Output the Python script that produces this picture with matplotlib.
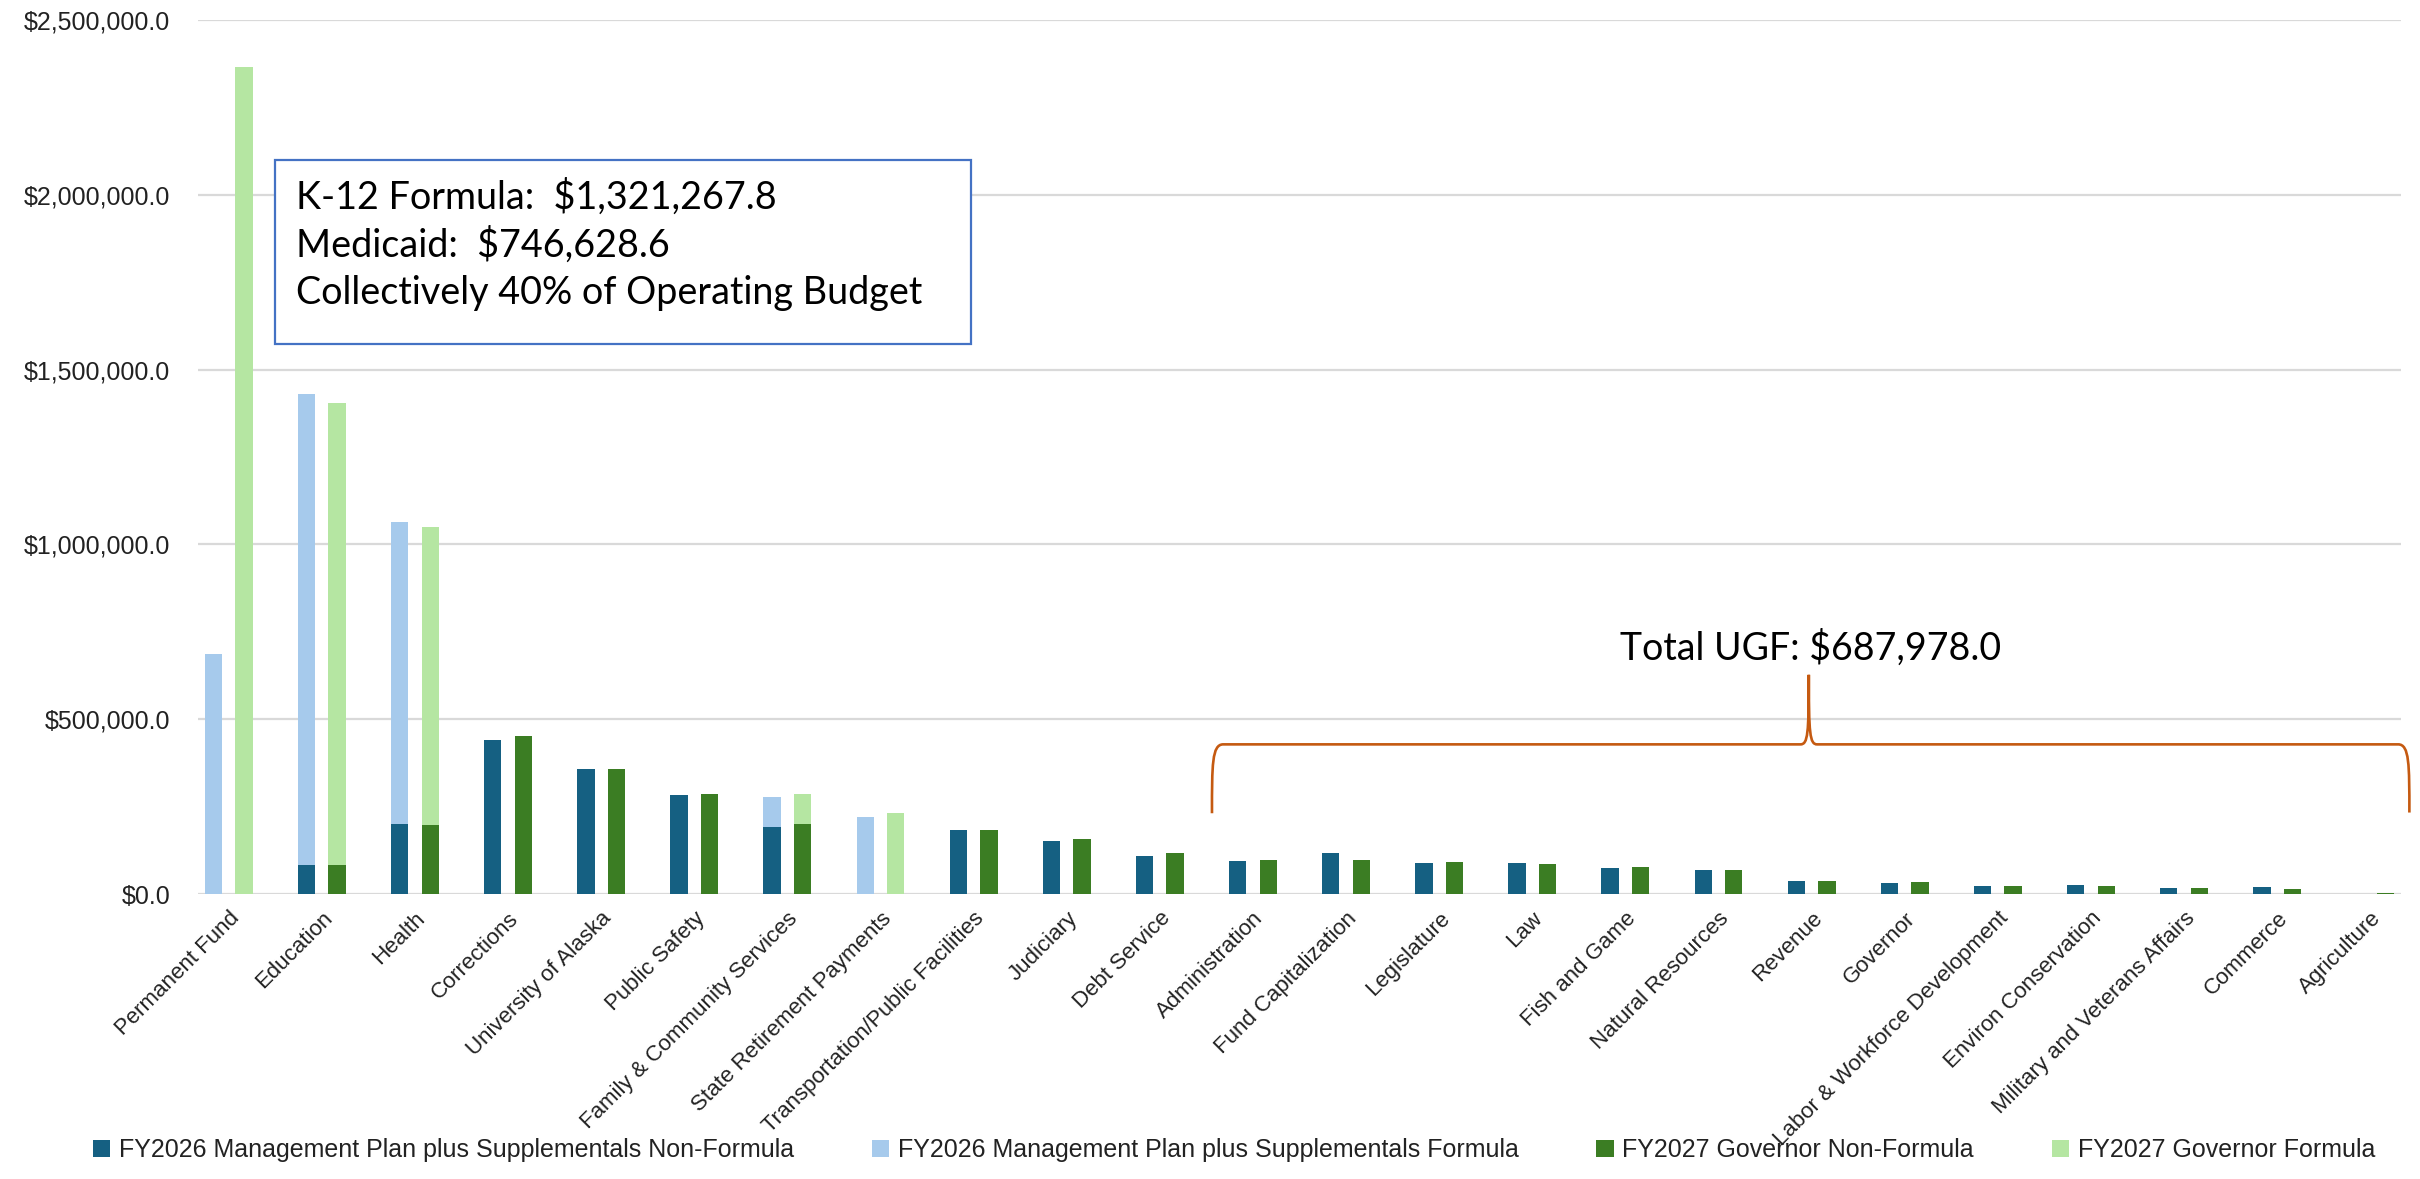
import matplotlib
matplotlib.use('Agg')
import matplotlib.pyplot as plt
from matplotlib.path import Path
from matplotlib.patches import PathPatch, Rectangle, Patch
from matplotlib.ticker import FuncFormatter, MultipleLocator
import numpy as np

plt.rcParams['font.family'] = ['Liberation Sans', 'DejaVu Sans']

categories = ['Permanent Fund', 'Education', 'Health', 'Corrections', 'University of Alaska',
              'Public Safety', 'Family & Community Services', 'State Retirement Payments',
              'Transportation/Public Facilities', 'Judiciary', 'Debt Service', 'Administration',
              'Fund Capitalization', 'Legislature', 'Law', 'Fish and Game', 'Natural Resources',
              'Revenue', 'Governor', 'Labor & Workforce Development', 'Environ Conservation',
              'Military and Veterans Affairs', 'Commerce', 'Agriculture']

fy26_nonformula = [0, 84000, 200000, 440000, 358000, 282000, 191000, 0, 182000, 153000, 109000,
                   95000, 118000, 88000, 88000, 74000, 69000, 36000, 31000, 22000, 26000, 16000,
                   20000, 0]
fy26_formula = [686000, 1347000, 864000, 0, 0, 0, 87000, 219000, 0, 0, 0, 0, 0, 0, 0, 0, 0, 0,
                0, 0, 0, 0, 0, 0]
fy27_nonformula = [0, 84000, 197000, 453000, 358000, 287000, 199000, 0, 184000, 158000, 118000,
                   98000, 98000, 92000, 86000, 78000, 69000, 36000, 33000, 23000, 23000, 17000,
                   15000, 3000]
fy27_formula = [2366000, 1321268, 854000, 0, 0, 0, 86000, 233000, 0, 0, 0, 0, 0, 0, 0, 0, 0, 0,
                0, 0, 0, 0, 0, 0]

series_labels = ['FY2026 Management Plan plus Supplementals Non-Formula',
                 'FY2026 Management Plan plus Supplementals Formula',
                 'FY2027 Governor Non-Formula',
                 'FY2027 Governor Formula']
colors = ['#156082', '#A6CAEC', '#3B7D23', '#B5E6A2']

box_lines = ['K-12 Formula:  $1,321,267.8', 'Medicaid:  $746,628.6',
             'Collectively 40% of Operating Budget']
ugf_label = 'Total UGF: $687,978.0'

W, H = 2420, 1179
fig = plt.figure(figsize=(W / 100, H / 100), dpi=100)
ax = fig.add_axes([198 / W, 285 / H, (2401 - 198) / W, (894 - 20) / H])

x = np.arange(len(categories))
bw, off = 0.186, 0.164
ax.bar(x - off, fy26_nonformula, bw, color=colors[0], label=series_labels[0], zorder=3)
ax.bar(x - off, fy26_formula, bw, bottom=fy26_nonformula, color=colors[1], label=series_labels[1], zorder=3)
ax.bar(x + off, fy27_nonformula, bw, color=colors[2], label=series_labels[2], zorder=3)
ax.bar(x + off, fy27_formula, bw, bottom=fy27_nonformula, color=colors[3], label=series_labels[3], zorder=3)

ax.set_xlim(-0.33, len(categories) - 1 + 0.33)
ax.set_ylim(0, 2500000)
ax.yaxis.set_major_locator(MultipleLocator(500000))
ax.yaxis.set_major_formatter(FuncFormatter(lambda v, p: '${:,.1f}'.format(v)))
ax.grid(axis='y', color='#D9D9D9', linewidth=1.6, zorder=0)
ax.set_axisbelow(True)
for s in ax.spines.values():
    s.set_visible(False)
ax.tick_params(axis='both', length=0)
ax.tick_params(axis='y', labelsize=18, pad=20, labelcolor='#222222')
ax.set_xticks(x)
ax.set_xticklabels(categories, rotation=45, ha='right', rotation_mode='anchor',
                   fontsize=16, color='#222222')
ax.tick_params(axis='x', pad=10)

# Curly brace over the smaller departments
xl, xr, xt = 10.56, 23.42, 16.97
yline, ybl, ybr, ytip = 428000, 231000, 233000, 627000
cx = 0.12
tx = 0.09
verts = [
    (xl, ybl), (xl, yline - 0.3 * (yline - ybl)), (xl, yline), (xl + cx, yline),
    (xt - tx, yline),
    (xt - 0.01, yline), (xt, yline + 0.15 * (ytip - yline)), (xt, ytip),
    (xt, yline + 0.15 * (ytip - yline)), (xt + 0.01, yline), (xt + tx, yline),
    (xr - cx, yline),
    (xr, yline), (xr, yline - 0.3 * (yline - ybr)), (xr, ybr),
]
codes = [Path.MOVETO, Path.CURVE4, Path.CURVE4, Path.CURVE4,
         Path.LINETO,
         Path.CURVE4, Path.CURVE4, Path.CURVE4,
         Path.CURVE4, Path.CURVE4, Path.CURVE4,
         Path.LINETO,
         Path.CURVE4, Path.CURVE4, Path.CURVE4]
ax.add_patch(PathPatch(Path(verts, codes), facecolor='none', edgecolor='#C55A11',
                       linewidth=1.9, clip_on=False, zorder=4))

# Annotation box
fig.add_artist(Rectangle((275 / W, 1 - 344 / H), (971 - 275) / W, (344 - 160) / H,
                         transform=fig.transFigure, facecolor='white', edgecolor='#4472C4',
                         linewidth=1.6, zorder=5))
for i, line in enumerate(box_lines):
    fig.text(296 / W, 1 - (197 + 48 * i) / H, line, ha='left', va='center',
             fontsize=27.2, family=['Lato', 'DejaVu Sans'], color='black', zorder=6)

fig.text(1620 / W, 1 - 648 / H, ugf_label, ha='left', va='center', fontsize=27,
         family=['Lato', 'DejaVu Sans'], color='black')

handles = [Patch(facecolor=c) for c in colors]
fig.legend(handles, series_labels, loc='center', bbox_to_anchor=(1234 / W, 1 - 1150 / H),
           ncol=4, frameon=False, fontsize=18, handlelength=0.7, handleheight=0.7,
           handletextpad=0.35, columnspacing=3.1, borderpad=0, labelcolor='#222222')

fig.savefig('out.png', dpi=100, facecolor='white')
